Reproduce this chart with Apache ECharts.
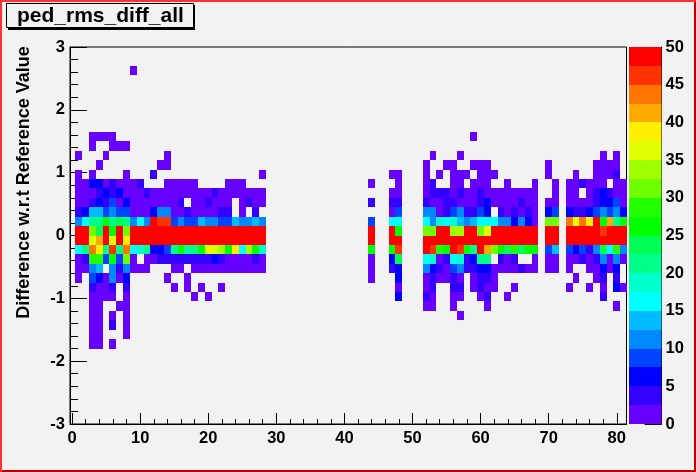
<!DOCTYPE html>
<html>
<head>
<meta charset="utf-8">
<style>html,body{margin:0;padding:0;background:#f2f2f2}#c{width:696px;height:472px}</style>
<script src="https://cdn.jsdelivr.net/npm/echarts@6/dist/echarts.min.js"></script>
</head>
<body>
<div id="c"></div>
<script>
const titleText = "ped_rms_diff_all";
const yTitle = "Difference w.r.t Reference Value";
const xMajor = [0,10,20,30,40,50,60,70,80];
const xMinor = [2,4,6,8,12,14,16,18,22,24,26,28,32,34,36,38,42,44,46,48,52,54,56,58,62,64,66,68,72,74,76,78];
const yMajor = [-3,-2,-1,0,1,2,3];
const yMinor = [-2.8,-2.6,-2.4,-2.2,-1.8,-1.6,-1.4,-1.2,-0.8,-0.6,-0.4,-0.2,0.2,0.4,0.6,0.8,1.2,1.4,1.6,1.8,2.2,2.4,2.6,2.8];
const palette = ["#6600ff","#3300ff","#0000ff","#0044ff","#0088ff","#00bbff","#00ffff","#00ffcc","#00ff88","#00ff55","#00ff00","#22ff00","#70ff00","#a0ff00","#e0ff00","#ffee00","#ffaa00","#ff7700","#ff3300","#ff0000"];
const binHeight = 0.15;

// Each row: runs of [first column, counts of consecutive columns...]
const row_p17 = [[9,1]];
const row_p10 = [[3,1,1,1,1],[59,1]];
const row_p9 = [[3,1],[6,1,1,1]];
const row_p8 = [[1,1],[5,1],[14,1],[53,1],[57,1],[78,1],[80,1]];
const row_p7 = [[4,1],[13,1,1],[52,1],[55,1,1],[59,1,1,1],[70,1],[77,1,1,1,1]];
const row_p6 = [[1,1],[3,1],[8,1],[12,4],[28,1],[47,1,1],[52,1],[54,1],[56,1,1,1],[60,1,1,1],[70,1],[74,1],[77,1,1,1,4]];
const row_p5 = [[1,1,1,6,6,1,4,1,1,1,4],[14,1,1,1,1,1],[23,1,1,1],[44,1],[48,1],[52,1,4],[56,1,1],[59,1,1,1],[64,1],[68,1],[71,1],[73,1,1,4,1,1,1],[80,1,1]];
const row_p4 = [[1,1,1,1,4,6,4,6,1,1,1,4,1,1,1,1,1,1,1,1,1,4,1,1,1,1,1,1,1],[47,1,1],[52,1,4,4,4,1,4,1,1,4,1,1,1,1,1,1,1,1],[71,1],[73,1,1],[76,1,4,6,4,1,1]];
const row_p3 = [[1,1,1,4,6,4,9,1,6,1,1,1,1,1,1,1,4],[18,1,1,4,1,1,1],[25,1,4,1,1],[44,4],[47,4,4],[52,4,1,1,4,4,1,1,1,4,6,1,1,1,1,4,1,1],[70,1,1],[73,1,1,1,1,4,6,6,9,1]];
const row_p2 = [[1,4,6,14,14,9,11,9,9,1,1,1,6,11,11,1,1,4,1,1,1,1,4,4],[25,1],[27,4],[47,1,9],[52,11,11,1,4,9,11,4,4,9,6],[63,4,1,4,1,4,1],[70,6,9],[73,6,4,4,6,9,11,9,11,6]];
const row_p1 = [[1,11,16,21,21,26,21,24,21,11,16,11,50,46,46,9,11,9,9,14,11,11,9,9,14,11,11,14,11],[44,9],[47,16,16],[52,16,11,19,16,19,14,11,14,16,16,16,11,11,6,11,6,1],[70,31,31],[73,44,36,44,39,50,26,41,21,26]];
const row_p0 = [[1,50,50,31,24,50,26,50,31,50,50,50,50,50,50,50,50,50,50,50,50,50,50,50,50,50,50,50,50],[44,50],[47,50,26],[52,31,31,50,50,34,34,50,50,31,36,50,50,50,50,50,50,50],[70,50,50],[73,50,50,50,50,50,46,50,50,50]];
const row_m1 = [[1,50,50,36,41,50,36,50,39,50,50,50,50,50,50,50,50,50,50,50,50,50,50,50,50,50,50,50,50],[44,50],[47,50,50],[52,50,50,50,50,50,50,50,50,50,50,50,50,50,50,50,50,50],[70,50,50],[73,50,50,50,50,50,50,50,50,50]];
const row_m2 = [[1,16,21,44,39,21,46,21,44,16,19,21,6,6,9,21,26,21,21,26,36,36,34,26,39,16,34,26,19],[44,26],[47,26,46],[52,50,46,29,26,50,46,26,21,50,41,31,26,24,29,24,26,26],[70,9,14],[73,9,6,9,4,11,24,16,29,11]];
const row_m3 = [[1,1,4,29,29,9,26,9,31,1],[11,1,1,4,4,4,4,4,4,4,4,6,4,1,1,1,1,4,1],[44,1],[47,6,24],[52,16,19,1,4,16,19,4,6,21,21],[63,4,1,4],[68,1],[70,1,1],[73,1,1,4,1,4,11,1,11,1]];
const row_m4 = [[1,1,1,11,14],[6,11,4,11,1,1,1],[15,1,1],[18,1,1,1,1,1,1,1,1,1,1,1],[44,1],[47,4,6],[52,11,6,4,1,9,11,4,4,6,6,1,1,1,1,4,1,1],[70,1,1],[73,1],[76,1,1,6,1,6]];
const row_m5 = [[1,1],[3,9,6,1,11,1,6],[14,1],[17,1],[44,1],[48,6],[52,1,4,1,1,4,1],[59,1,4,4,1],[74,1],[77,1,4],[80,4]];
const row_m6 = [[3,4,1,1,4],[8,4],[15,1],[17,1],[19,1],[22,1],[48,1],[52,1,4],[56,4,4],[59,1,4,1,1],[65,1],[73,1],[76,1],[78,1],[80,6,1]];
const row_m7 = [[3,1,1,1,1],[8,1],[18,1],[20,1],[48,6],[52,4,1],[56,1,1],[60,1,4],[64,1],[78,4]];
const row_m8 = [[3,1,1],[7,1,1],[52,1,1],[56,1],[61,1],[80,1]];
const row_m9 = [[3,1,1],[6,1],[8,1],[57,1]];
const row_m10 = [[3,1,1],[6,4],[8,1]];
const row_m11 = [[3,1,1],[8,1]];
const row_m12 = [[3,1,1],[6,1]];

const rowIndex = [17,10,9,8,7,6,5,4,3,2,1,0,-1,-2,-3,-4,-5,-6,-7,-8,-9,-10,-11,-12];
const rowRuns = [row_p17,row_p10,row_p9,row_p8,row_p7,row_p6,row_p5,row_p4,row_p3,row_p2,row_p1,row_p0,row_m1,row_m2,row_m3,row_m4,row_m5,row_m6,row_m7,row_m8,row_m9,row_m10,row_m11,row_m12];

const cells = [];
rowIndex.forEach((k, r) => {
  rowRuns[r].forEach(run => {
    for (let i = 1; i < run.length; i++) cells.push([run[0] + i - 1, k * binHeight, run[i]]);
  });
});
const bandOf = v => Math.min(palette.length - 1, Math.floor(v / 2.5));
const bands = palette.map((c, i) => [i * 2.5, (i + 1) * 2.5, i]);

const font = "'Liberation Sans', Arial, sans-serif";
const labelStyle = {fontFamily: font, fontWeight: "bold", fontSize: 16.5, color: "#000"};
const line = {lineStyle: {color: "#000", width: 1}};

const chart = echarts.init(document.getElementById("c"), null, {renderer: "canvas"});
chart.setOption({
  animation: false,
  backgroundColor: "#f2f2f2",
  title: {text: titleText, left: 17, top: 6, padding: 0,
    textStyle: {fontFamily: font, fontWeight: "bold", fontSize: 21, color: "#000"}},
  grid: [
    {left: 70, top: 47, width: 556.5, height: 377, show: true, borderColor: "#000", borderWidth: 1, backgroundColor: "#f2f2f2"},
    {left: 629, top: 47, width: 32.5, height: 377, show: false}
  ],
  xAxis: [
    {gridIndex: 0, type: "value", min: -0.3, max: 81.43, position: "bottom", axisLine: {onZero: false, ...line},
      splitLine: {show: false},
      axisTick: {inside: true, length: 11, customValues: xMajor, ...line},
      axisLabel: {customValues: xMajor, margin: 6, ...labelStyle, showMinLabel: true, showMaxLabel: true}},
    {gridIndex: 0, type: "value", min: -0.3, max: 81.43, position: "bottom", axisLine: {show: false, onZero: false},
      splitLine: {show: false},
      axisTick: {inside: true, length: 5, customValues: xMinor, ...line},
      axisLabel: {show: false}},
    {gridIndex: 1, type: "value", min: 0, max: 1, show: false}
  ],
  yAxis: [
    {gridIndex: 0, type: "value", min: -3, max: 3, position: "left", axisLine: {onZero: false, ...line},
      splitLine: {show: false},
      axisTick: {inside: true, length: 17, customValues: yMajor, ...line},
      axisLabel: {customValues: yMajor, margin: 5, ...labelStyle}},
    {gridIndex: 0, type: "value", min: -3, max: 3, position: "left", axisLine: {show: false, onZero: false},
      splitLine: {show: false},
      axisTick: {inside: true, length: 8, customValues: yMinor, ...line},
      axisLabel: {show: false}},
    {gridIndex: 1, type: "value", min: 0, max: 50, interval: 5, position: "right", axisLine: {show: true, onZero: false, ...line},
      splitLine: {show: false},
      axisTick: {show: true, inside: true, length: 17, ...line},
      axisLabel: {margin: 4, ...labelStyle}}
  ],
  series: [
    {type: "custom", xAxisIndex: 0, yAxisIndex: 0, silent: true, data: cells,
      encode: {x: 0, y: 1}, clip: true,
      renderItem(params, api) {
        const c = api.value(0), low = api.value(1), v = api.value(2);
        const p0 = api.coord([c - 0.5, low + binHeight]);
        const p1 = api.coord([c + 0.5, low]);
        const x0 = Math.round(p0[0]), x1 = Math.round(p1[0]), y0 = Math.round(p0[1]), y1 = Math.round(p1[1]);
        return {type: "rect", shape: {x: x0, y: y0, width: x1 - x0, height: y1 - y0},
          style: {fill: palette[bandOf(v)]}};
      }},
    {type: "custom", xAxisIndex: 2, yAxisIndex: 2, silent: true, data: bands,
      encode: {y: [0, 1]},
      renderItem(params, api) {
        const p0 = api.coord([0, api.value(1)]);
        const p1 = api.coord([1, api.value(0)]);
        const y0 = Math.round(p0[1]), y1 = Math.round(p1[1]);
        return {type: "rect", shape: {x: p0[0], y: y0, width: p1[0] - p0[0], height: y1 - y0},
          style: {fill: palette[api.value(2)]}};
      }}
  ],
  graphic: [
    {type: "rect", z: -1, shape: {x: 8, y: 5, width: 187, height: 25}, style: {fill: "#000"}},
    {type: "rect", z: -1, shape: {x: 6.5, y: 3.5, width: 187, height: 24}, style: {fill: "#f2f2f2", stroke: "#000", lineWidth: 1}},
    {type: "text", rotation: Math.PI / 2, x: 24, y: 182.5, style: {text: yTitle, font: "bold 18px " + font, fill: "#000", align: "center", verticalAlign: "middle"}},
    {type: "rect", z: 100, shape: {x: 0, y: 470, width: 696, height: 2}, style: {fill: "#bb0000"}},
    {type: "rect", z: 100, shape: {x: 694, y: 0, width: 2, height: 472}, style: {fill: "#bb0000"}},
    {type: "rect", z: 101, shape: {x: 0, y: 0, width: 696, height: 2}, style: {fill: "#ff3333"}},
    {type: "rect", z: 101, shape: {x: 0, y: 0, width: 2, height: 472}, style: {fill: "#ff3333"}}
  ]
});
</script>
</body>
</html>
